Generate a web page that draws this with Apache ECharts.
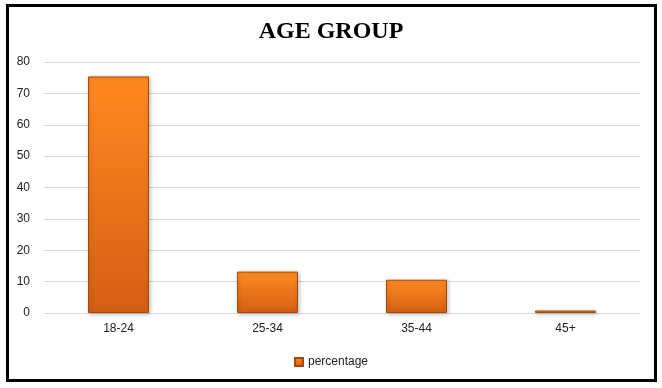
<!DOCTYPE html>
<html>
<head>
<meta charset="utf-8">
<script src="https://cdn.jsdelivr.net/npm/echarts@6/dist/echarts.min.js"></script>
<style>html,body{margin:0;padding:0;background:#fff}#c{width:662px;height:388px}</style>
</head>
<body>
<div id="c"></div>
<script>
var categories = ['18-24', '25-34', '35-44', '45+'];
var percentage = [75.4, 13.2, 10.6, 0.8];
var yTicks = [0, 10, 20, 30, 40, 50, 60, 70, 80];

var chart = echarts.init(document.getElementById('c'));
chart.setOption({
  animation: false,
  title: {
    text: 'AGE GROUP', left: 'center', top: 15,
    textStyle: {fontFamily: 'Liberation Serif', fontWeight: 'bold', fontSize: 24, color: '#000'}
  },
  graphic: [{
    type: 'rect', shape: {x: 7.5, y: 5.5, width: 648, height: 375},
    style: {fill: 'none', stroke: '#000', lineWidth: 3}, silent: true
  }],
  legend: {
    data: ['percentage'], bottom: 15, left: 'center', itemWidth: 8, itemHeight: 8, icon: 'rect',
    textStyle: {fontFamily: 'Liberation Sans', fontSize: 12, color: '#222'},
    itemGap: 3
  },
  grid: {left: 44, right: 22, top: 62, bottom: 75},
  xAxis: {
    type: 'category', data: categories,
    axisLine: {lineStyle: {color: '#d9d9d9'}}, axisTick: {show: false},
    axisLabel: {color: '#222', fontSize: 12, margin: 10, fontFamily: 'Liberation Sans'}
  },
  yAxis: {
    type: 'value', min: yTicks[0], max: yTicks[yTicks.length - 1], interval: 10,
    axisLine: {show: false}, axisTick: {show: false},
    splitLine: {lineStyle: {color: '#d9d9d9'}},
    axisLabel: {color: '#222', fontSize: 12, margin: 14, fontFamily: 'Liberation Sans'}
  },
  series: [{
    name: 'percentage', type: 'bar', data: percentage, barWidth: 61,
    itemStyle: {
      color: new echarts.graphic.LinearGradient(0, 0, 0, 1, [
        {offset: 0, color: '#ff8a20'}, {offset: 1, color: '#d45f14'}
      ]),
      borderColor: '#a54a0c', borderWidth: 1,
      shadowColor: 'rgba(0,0,0,0.25)', shadowBlur: 4, shadowOffsetX: 1, shadowOffsetY: 1
    }
  }]
});
</script>
</body>
</html>
